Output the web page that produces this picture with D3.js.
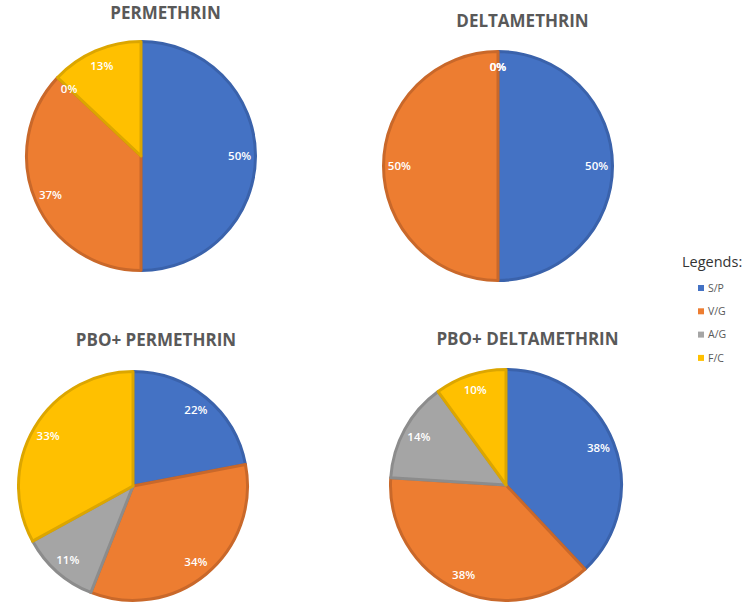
<!DOCTYPE html>
<html><head><meta charset="utf-8">
<script src="https://cdn.jsdelivr.net/npm/d3@7"></script>
<style>body{margin:0;background:#fff}svg{display:block}</style>
</head><body>
<svg id="c" width="749" height="615"></svg>
<script>
const categories = ["S/P", "V/G", "A/G", "F/C"];
const colors = ["#4472C4", "#ED7D31", "#A5A5A5", "#FFC000"];
const strokes = ["#3A62AB", "#C9682A", "#8C8C8C", "#DCA600"];
const titles = ["PERMETHRIN", "DELTAMETHRIN", "PBO+ PERMETHRIN", "PBO+ DELTAMETHRIN"];
const permethrin = [50, 37, 0, 13];
const deltamethrin = [50, 50, 0, 0];
const pboPermethrin = [22, 34, 11, 33];
const pboDeltamethrin = [38, 38, 14, 10];

const series = [permethrin, deltamethrin, pboPermethrin, pboDeltamethrin];
const layout = [
  {cx: 141, cy: 156, r: 116, tx: 165.5, ty: 18.5},
  {cx: 498, cy: 166, r: 116, tx: 522.5, ty: 27},
  {cx: 133, cy: 486, r: 116, tx: 156, ty: 346},
  {cx: 506, cy: 485, r: 117, tx: 527.5, ty: 345}
];

const svg = d3.select("#c");
const pie = d3.pie().sort(null).value(d => d.v);

series.forEach((vals, i) => {
  const L = layout[i];
  const g = svg.append("g").attr("transform", `translate(${L.cx},${L.cy})`);
  const data = vals.map((v, k) => ({v, k}));
  const arcs = pie(data);
  const arc = d3.arc().innerRadius(0).outerRadius(L.r - 1.5);
  const labelArc = d3.arc().innerRadius(L.r * 0.85).outerRadius(L.r * 0.85);
  g.selectAll("path").data(arcs.filter(d => d.data.v > 0)).join("path")
    .attr("d", arc)
    .attr("fill", d => colors[d.data.k])
    .attr("stroke", d => strokes[d.data.k])
    .attr("stroke-width", 3)
    .attr("stroke-linejoin", "round");
  g.selectAll("text").data(arcs).join("text")
    .attr("transform", d => `translate(${labelArc.centroid(d)})`)
    .attr("text-anchor", "middle")
    .attr("dy", "0.35em")
    .attr("fill", "#fff")
    .attr("font-family", "Open Sans, sans-serif")
    .attr("font-weight", 600)
    .attr("font-size", 11.5)
    .text(d => d.data.v + "%");
  svg.append("text")
    .attr("x", L.tx).attr("y", L.ty)
    .attr("text-anchor", "middle")
    .attr("fill", "#595959")
    .attr("font-family", "Open Sans, sans-serif")
    .attr("font-weight", 700)
    .attr("font-size", 17)
    .text(titles[i]);
});

// Legend
svg.append("text").attr("x", 682).attr("y", 267)
  .attr("fill", "#333").attr("font-family", "Open Sans, sans-serif")
  .attr("font-size", 14.5).text("Legends:");
const lg = svg.append("g");
categories.forEach((c, k) => {
  const y = 288 + k * 23.3;
  lg.append("rect").attr("x", 698).attr("y", y - 3).attr("width", 6).attr("height", 6).attr("fill", colors[k]);
  lg.append("text").attr("x", 708).attr("y", y).attr("dy", "0.35em")
    .attr("fill", "#595959").attr("font-family", "Open Sans, sans-serif")
    .attr("font-size", 10.5).text(c);
});
</script>
</body></html>
